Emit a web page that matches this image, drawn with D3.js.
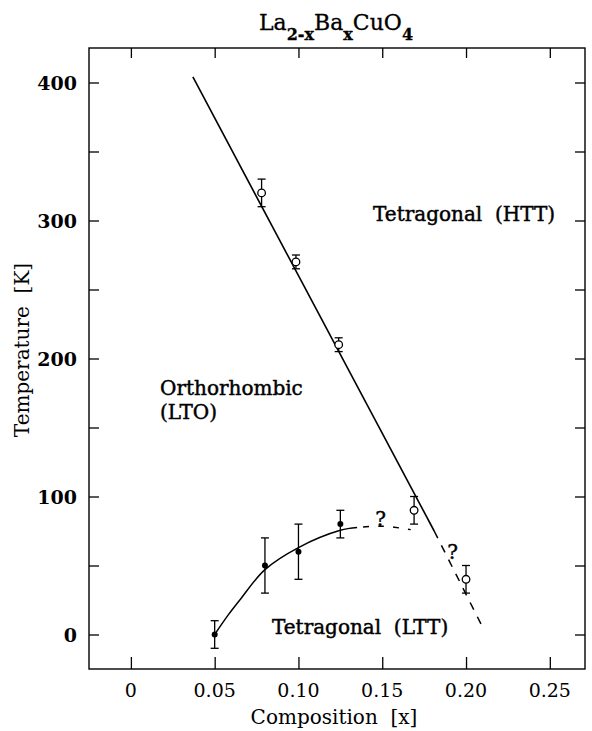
<!DOCTYPE html>
<html><head><meta charset="utf-8">
<script src="https://cdn.jsdelivr.net/npm/d3@7"></script>
<style>html,body{margin:0;padding:0;background:#fff;} svg{display:block;}</style>
</head><body>
<svg id="chart" width="592" height="731"></svg>
<script>
// ---- data ----
const xTicks = [0, 0.05, 0.10, 0.15, 0.20, 0.25];
const xTickLabels = ["0", "0.05", "0.10", "0.15", "0.20", "0.25"];
const yTicks = [0, 100, 200, 300, 400];
const yMinorTicks = [50, 150, 250, 350];
// HTT -> LTO transition (open circles)
const httX = [0.078, 0.0985, 0.124, 0.169, 0.200];
const httT = [320, 270, 210, 90, 40];
const httErr = [10, 5, 5, 10, 10];
// LTO -> LTT transition (filled dots)
const lttX = [0.05, 0.08, 0.10, 0.125];
const lttT = [0, 50, 60, 80];
const lttErr = [10, 20, 20, 10];
// phase boundary HTT/LTO
const lineX = [0.037, 0.181];
const lineT = [404, 75];
const lineDashX = [0.181, 0.210];
const lineDashT = [75, 5];
// phase boundary LTO/LTT
const curveX = [0.05, 0.058, 0.065, 0.08, 0.10, 0.125, 0.135];
const curveT = [0, 14, 25, 47, 63, 75.5, 77.5];
const curveDashX = [0.135, 0.15, 0.167];
const curveDashT = [77.5, 78.5, 76];
// annotations
const qX = [0.149, 0.192];
const qT = [78.5, 54.5];
const labelText = ["Tetragonal  (HTT)", "Orthorhombic", "(LTO)", "Tetragonal  (LTT)"];
const labelX = [0.1445, 0.0174, 0.0174, 0.0842];
const labelT = [300, 173.5, 156, 0.4];

// ---- layout ----
const L = 89, R = 585, T = 48, B = 669;
const svg = d3.select("#chart");
const x = d3.scaleLinear().domain([-0.025, 0.271]).range([L, R]);
const y = d3.scaleLinear().domain([-25, 425]).range([B, T]);
const font = "'DejaVu Serif', serif";

// frame
svg.append("rect").attr("x", L).attr("y", T).attr("width", R - L).attr("height", B - T)
  .attr("fill", "none").attr("stroke", "#000").attr("stroke-width", 1.4);

// axes with inward ticks
const gB = svg.append("g").attr("transform", `translate(0,${B})`)
  .call(d3.axisTop(x).tickValues(xTicks).tickSize(12).tickFormat(""));
const gTop = svg.append("g").attr("transform", `translate(0,${T})`)
  .call(d3.axisBottom(x).tickValues(xTicks).tickSize(10).tickFormat(""));
const gL = svg.append("g").attr("transform", `translate(${L},0)`)
  .call(d3.axisRight(y).tickValues(yTicks.concat(yMinorTicks)).tickSize(10).tickFormat(""));
const gR = svg.append("g").attr("transform", `translate(${R},0)`)
  .call(d3.axisLeft(y).tickValues(yTicks.concat(yMinorTicks)).tickSize(10).tickFormat(""));
[gB, gTop, gL, gR].forEach(g => {
  g.select(".domain").remove();
  g.selectAll("line").attr("stroke", "#000").attr("stroke-width", 1.3);
});

// tick labels
svg.append("g").selectAll("text").data(xTicks).join("text")
  .attr("x", d => x(d)).attr("y", 697).attr("text-anchor", "middle")
  .attr("font-family", font).attr("font-size", 19).attr("fill", "#000")
  .text((d, i) => xTickLabels[i]);
svg.append("g").selectAll("text").data(yTicks).join("text")
  .attr("x", 77).attr("y", d => y(d) + 7).attr("text-anchor", "end")
  .attr("font-family", font).attr("font-size", 19).attr("font-weight", "bold").attr("fill", "#000")
  .text(d => d);

// axis titles
svg.append("text").attr("x", (L + R) / 2 - 3).attr("y", 724).attr("text-anchor", "middle")
  .attr("font-family", font).attr("font-size", 20).attr("fill", "#000").attr("xml:space", "preserve")
  .text("Composition  [x]");
svg.append("text").attr("transform", "translate(29,350) rotate(-90)").attr("text-anchor", "middle")
  .attr("font-family", font).attr("font-size", 20).attr("fill", "#000").attr("xml:space", "preserve")
  .text("Temperature  [K]");

// title
const title = svg.append("text").attr("x", 336).attr("y", 30).attr("text-anchor", "middle")
  .attr("font-family", font).attr("font-size", 22).attr("fill", "#000")
  .attr("stroke", "#000").attr("stroke-width", 0.3);
title.append("tspan").text("La");
title.append("tspan").attr("dy", 10).attr("font-size", 16).attr("font-weight", "bold").text("2-x");
title.append("tspan").attr("dy", -10).text("Ba");
title.append("tspan").attr("dy", 10).attr("font-size", 16).attr("font-weight", "bold").text("x");
title.append("tspan").attr("dy", -10).text("CuO");
title.append("tspan").attr("dy", 10).attr("font-size", 16).attr("font-weight", "bold").text("4");

// boundary lines
const ln = d3.line().x(d => x(d[0])).y(d => y(d[1]));
const lnC = d3.line().x(d => x(d[0])).y(d => y(d[1])).curve(d3.curveCatmullRom.alpha(0.5));
svg.append("path").attr("d", ln(d3.zip(lineX, lineT)))
  .attr("fill", "none").attr("stroke", "#000").attr("stroke-width", 1.6);
svg.append("path").attr("d", ln(d3.zip(lineDashX, lineDashT)))
  .attr("fill", "none").attr("stroke", "#000").attr("stroke-width", 1.5).attr("stroke-dasharray", "8,8");
svg.append("path").attr("d", lnC(d3.zip(curveX, curveT)))
  .attr("fill", "none").attr("stroke", "#000").attr("stroke-width", 1.5);
svg.append("path").attr("d", lnC(d3.zip(curveDashX, curveDashT)))
  .attr("fill", "none").attr("stroke", "#000").attr("stroke-width", 1.5).attr("stroke-dasharray", "6,9").attr("stroke-dashoffset", -6);

// error bars
function errBars(xs, ts, es) {
  const g = svg.append("g").attr("stroke", "#000").attr("stroke-width", 1.3);
  xs.forEach((xv, i) => {
    const cx = x(xv), y1 = y(ts[i] + es[i]), y2 = y(ts[i] - es[i]);
    g.append("line").attr("x1", cx).attr("x2", cx).attr("y1", y1).attr("y2", y2);
    g.append("line").attr("x1", cx - 4).attr("x2", cx + 4).attr("y1", y1).attr("y2", y1);
    g.append("line").attr("x1", cx - 4).attr("x2", cx + 4).attr("y1", y2).attr("y2", y2);
  });
}
errBars(httX, httT, httErr);
errBars(lttX, lttT, lttErr);

svg.append("g").selectAll("circle").data(d3.zip(httX, httT)).join("circle")
  .attr("cx", d => x(d[0])).attr("cy", d => y(d[1])).attr("r", 3.8)
  .attr("fill", "#fff").attr("stroke", "#000").attr("stroke-width", 1.3);
svg.append("g").selectAll("circle").data(d3.zip(lttX, lttT)).join("circle")
  .attr("cx", d => x(d[0])).attr("cy", d => y(d[1])).attr("r", 3)
  .attr("fill", "#000");

// question marks
svg.append("g").selectAll("text").data(d3.zip(qX, qT)).join("text")
  .attr("x", d => x(d[0])).attr("y", d => y(d[1])).attr("text-anchor", "middle")
  .attr("font-family", font).attr("font-size", 20).attr("fill", "#000")
  .attr("stroke", "#000").attr("stroke-width", 0.4).text("?");

// region labels
svg.append("g").selectAll("text").data(labelText).join("text")
  .attr("x", (d, i) => x(labelX[i])).attr("y", (d, i) => y(labelT[i]))
  .attr("font-family", font).attr("font-size", 20).attr("fill", "#000")
  .attr("stroke", "#000").attr("stroke-width", 0.45).attr("xml:space", "preserve")
  .text(d => d);
</script>
</body></html>
